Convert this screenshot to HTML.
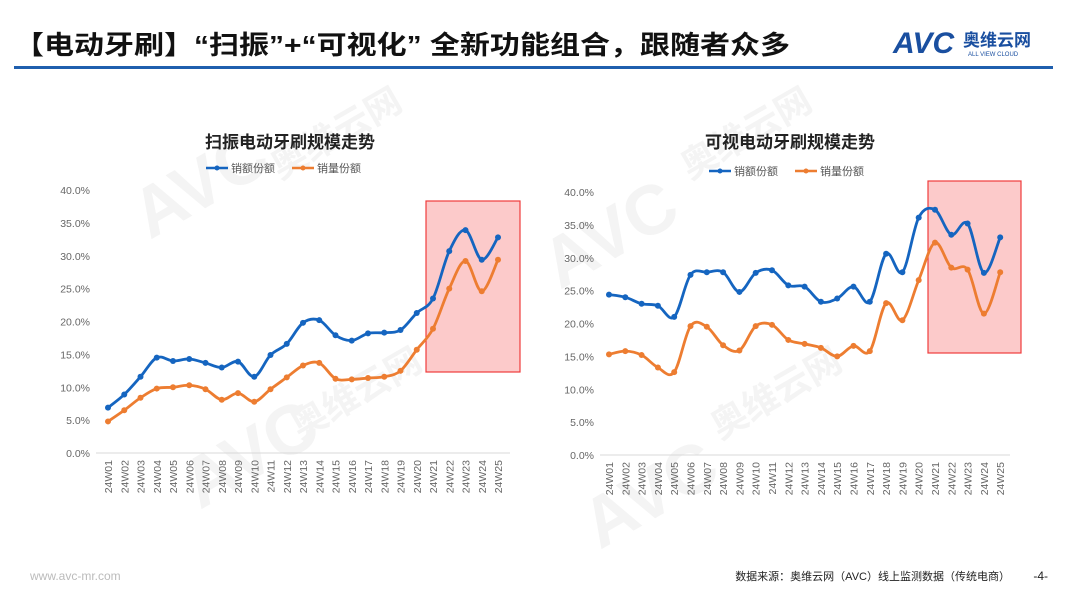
<!DOCTYPE html>
<html><head><meta charset="utf-8"><style>
body{margin:0;width:1080px;height:608px;background:#fff;overflow:hidden;font-family:"Liberation Sans","Noto Sans CJK SC",sans-serif}
</style></head><body>
<svg id="s" width="1080" height="608" xmlns="http://www.w3.org/2000/svg" font-family="Liberation Sans, Noto Sans CJK SC, sans-serif">
<text x="14" y="54" font-size="26" font-weight="bold" fill="#111" textLength="776" lengthAdjust="spacingAndGlyphs">【电动牙刷】“扫振”+“可视化” 全新功能组合，跟随者众多</text>
<text x="893" y="53" font-size="30" font-weight="bold" fill="#1a4fa0" font-style="italic">AVC</text>
<text x="963" y="46" font-size="17" font-weight="bold" fill="#1a4fa0">奥维云网</text>
<text x="968" y="56" font-size="6" fill="#1a4fa0">ALL VIEW CLOUD</text>
<rect x="14" y="66" width="1039" height="3" fill="#1f5fae"/>
<g fill="#e8e8e8" font-weight="bold" opacity=".5">
<text x="150" y="240" font-size="70" transform="rotate(-30 150 240)">AVC</text>
<text x="560" y="290" font-size="70" transform="rotate(-30 560 290)">AVC</text>
<text x="200" y="510" font-size="70" transform="rotate(-30 200 510)">AVC</text>
<text x="600" y="550" font-size="70" transform="rotate(-30 600 550)">AVC</text>
<text x="280" y="180" font-size="36" transform="rotate(-30 280 180)">奥维云网</text>
<text x="690" y="180" font-size="36" transform="rotate(-30 690 180)">奥维云网</text>
<text x="300" y="440" font-size="36" transform="rotate(-30 300 440)">奥维云网</text>
<text x="720" y="440" font-size="36" transform="rotate(-30 720 440)">奥维云网</text>
</g>
<text x="290" y="148" font-size="17" font-weight="bold" text-anchor="middle" fill="#222">扫振电动牙刷规模走势</text>
<text x="790" y="148" font-size="17" font-weight="bold" text-anchor="middle" fill="#222">可视电动牙刷规模走势</text>
<g id="c"></g>
<text x="30" y="580" font-size="12" fill="#bbb">www.avc-mr.com</text>
<text x="1010" y="580" font-size="11" text-anchor="end" fill="#222">数据来源：奥维云网（AVC）线上监测数据（传统电商）</text>
<text x="1048" y="580" font-size="12" text-anchor="end" fill="#222">-4-</text>
</svg>
<script>
var ns="http://www.w3.org/2000/svg",g=document.getElementById('c');
function el(t,a,txt){var e=document.createElementNS(ns,t);for(var k in a)e.setAttribute(k,a[k]);if(txt!=null)e.textContent=txt;g.appendChild(e);return e;}
function chart(x0,step,y0,y40,axL,axR,box,leg,blue,orange){
 var ppu=(y0-y40)/40;
 el('rect',{x:box[0],y:box[1],width:box[2],height:box[3],fill:'#fccaca',stroke:'#f03c3c','stroke-width':1.2});
 for(var i=0;i<=8;i++){el('text',{x:axL-6,y:y0-i*5*ppu+4,'font-size':10.5,fill:'#666','text-anchor':'end'},(i*5).toFixed(1)+'%');}
 el('line',{x1:axL,x2:axR,y1:y0,y2:y0,stroke:'#d9d9d9'});
 for(var i=0;i<25;i++){var x=x0+i*step,l='24W'+(i<9?'0':'')+(i+1);
  el('text',{x:0,y:0,'font-size':10.5,fill:'#666','text-anchor':'end',transform:'translate('+(x+4)+','+(y0+7)+') rotate(-90)'},l);}
 el('line',{x1:leg,x2:leg+22,y1:leg2y,y2:leg2y,stroke:'#1565c0','stroke-width':2.5});
 el('circle',{cx:leg+11,cy:leg2y,r:2.5,fill:'#1565c0'});
 el('text',{x:leg+25,y:leg2y+4,'font-size':11,fill:'#555'},'销额份额');
 el('line',{x1:leg+86,x2:leg+108,y1:leg2y,y2:leg2y,stroke:'#ed7d31','stroke-width':2.5});
 el('circle',{cx:leg+97,cy:leg2y,r:2.5,fill:'#ed7d31'});
 el('text',{x:leg+111,y:leg2y+4,'font-size':11,fill:'#555'},'销量份额');
 [[orange,'#ed7d31'],[blue,'#1565c0']].forEach(function(p){
  var pts=p[0].map(function(v,i){return [x0+i*step,y0-v*ppu];});
  var d='M'+pts[0][0]+','+pts[0][1];
  for(var i=0;i<pts.length-1;i++){var a=pts[i-1]||pts[i],b=pts[i],c=pts[i+1],e=pts[i+2]||c;
   d+=' C'+(b[0]+(c[0]-a[0])/6)+','+(b[1]+(c[1]-a[1])/6)+' '+(c[0]-(e[0]-b[0])/6)+','+(c[1]-(e[1]-b[1])/6)+' '+c[0]+','+c[1];}
  el('path',{d:d,fill:'none',stroke:p[1],'stroke-width':2.8});
  pts.forEach(function(q){el('circle',{cx:q[0],cy:q[1],r:3,fill:p[1]});});
 });
}
var leg2y=168;
chart(108,16.25,453,190,96,510,[426,201,94,171],206,
[6.9,8.9,11.6,14.5,14.0,14.3,13.7,13.0,13.9,11.6,14.9,16.6,19.8,20.2,17.9,17.1,18.2,18.3,18.7,21.3,23.5,30.7,33.9,29.4,32.8],
[4.8,6.5,8.4,9.8,10.0,10.3,9.7,8.1,9.1,7.8,9.7,11.5,13.3,13.7,11.3,11.2,11.4,11.6,12.5,15.7,18.9,25.0,29.2,24.6,29.4]);
leg2y=171;
chart(609,16.3,455,192,600,1010,[928,181,93,172],709,
[24.4,24.0,23.0,22.7,21.0,27.4,27.8,27.8,24.8,27.7,28.1,25.8,25.6,23.3,23.8,25.6,23.3,30.6,27.8,36.1,37.3,33.5,35.2,27.7,33.1],
[15.3,15.8,15.2,13.3,12.6,19.6,19.5,16.7,15.9,19.6,19.8,17.5,16.9,16.3,15.0,16.6,15.8,23.1,20.5,26.6,32.3,28.5,28.2,21.5,27.8]);
</script>
</body></html>
